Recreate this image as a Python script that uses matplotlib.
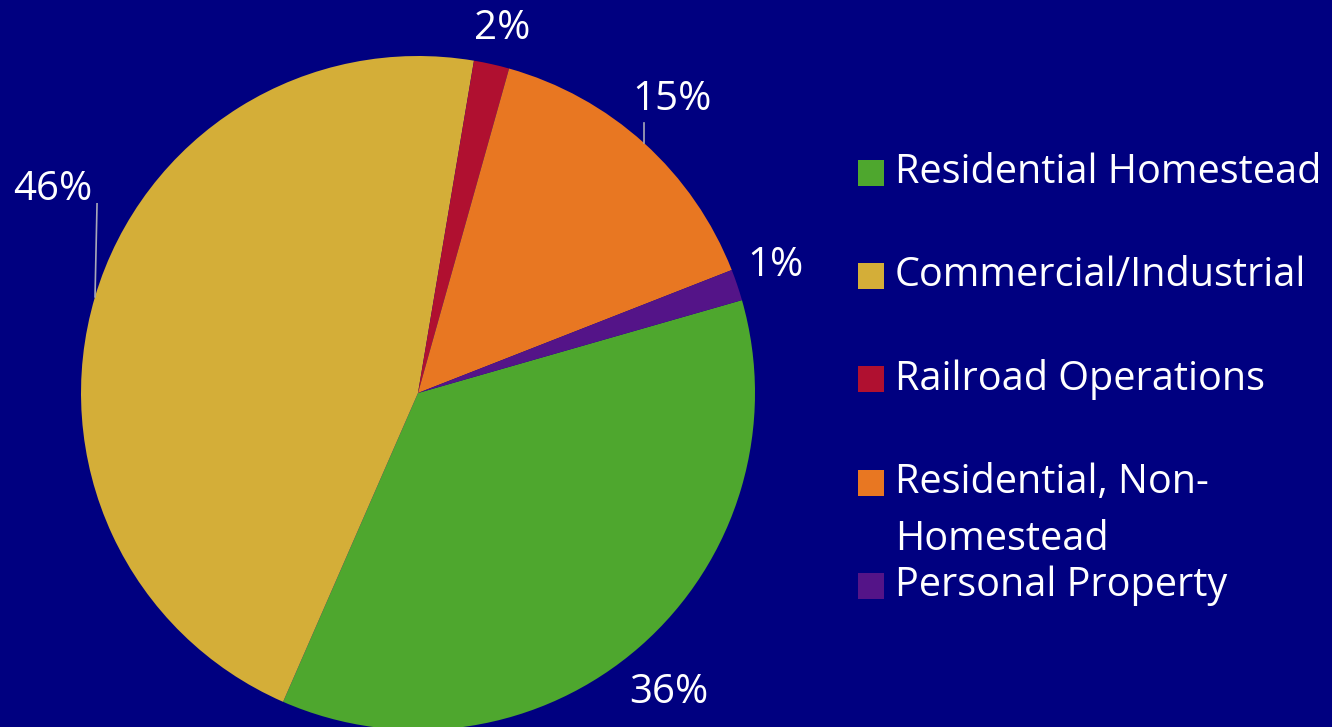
import numpy as np
import matplotlib
matplotlib.use("Agg")
import matplotlib.pyplot as plt
from matplotlib.patches import Rectangle

# data
categories = ["Residential Homestead", "Commercial/Industrial", "Railroad Operations",
              "Residential, Non-\nHomestead", "Personal Property"]
values = [36.0, 46.1, 1.7, 14.7, 1.5]
pct_labels = ["36%", "46%", "2%", "15%", "1%"]
colors = ["#4EA72E", "#D4AE38", "#B01030", "#E87722", "#541488"]

BG = "#000080"
plt.rcParams['font.family'] = ['Open Sans', 'DejaVu Sans']

fig = plt.figure(figsize=(13.32, 7.27), dpi=100, facecolor=BG)
W, H = 1332, 727
cx, cy, r = 418, 393, 337
ax = fig.add_axes([(cx - r) / W, (H - cy - r) / H, 2 * r / W, 2 * r / H])
ax.set_facecolor(BG)

wedges, _ = ax.pie(values, colors=colors, startangle=16, counterclock=False,
                   radius=1, wedgeprops=dict(linewidth=0))
ax.set_xlim(-1, 1)
ax.set_ylim(-1, 1)
ax.set_aspect('equal')
ax.axis('off')

# label placement: (distance, angle shift in deg)
label_pos = [(1.16, -1.2), (1.24, -12.5), (1.11, -0.4), (1.15, 1.2), (1.125, 0.9)]
for w, txt, (dist, dang) in zip(wedges, pct_labels, label_pos):
    mid = np.deg2rad((w.theta1 + w.theta2) / 2 + dang)
    ax.text(dist * np.cos(mid), dist * np.sin(mid), txt, ha='center', va='center',
            color='white', fontsize=29, clip_on=False)

# leader lines for gold and orange slices
for i, (ddx, ddy) in [(1, (0.006, 0.276)), (3, (0.0, 0.06))]:
    w = wedges[i]
    mid = np.deg2rad((w.theta1 + w.theta2) / 2)
    x0, y0 = np.cos(mid), np.sin(mid)
    ax.plot([x0, x0 + ddx], [y0, y0 + ddy], color='#A8A8B8', lw=1.2, clip_on=False)

# legend
leg_y = [173, 276, 379, 483, 586]
for name, col, y in zip(categories, colors, leg_y):
    fig.patches.append(Rectangle((858 / W, (H - y - 13) / H), 26 / W, 26 / H,
                                 transform=fig.transFigure, facecolor=col, edgecolor='none'))
    for k, line in enumerate(name.split('\n')):
        fig.text(895 / W, (H - y - 57 * k) / H, line, color='white', fontsize=28.5,
                 ha='left', va='center')

fig.savefig("out.png", dpi=100, facecolor=BG)
